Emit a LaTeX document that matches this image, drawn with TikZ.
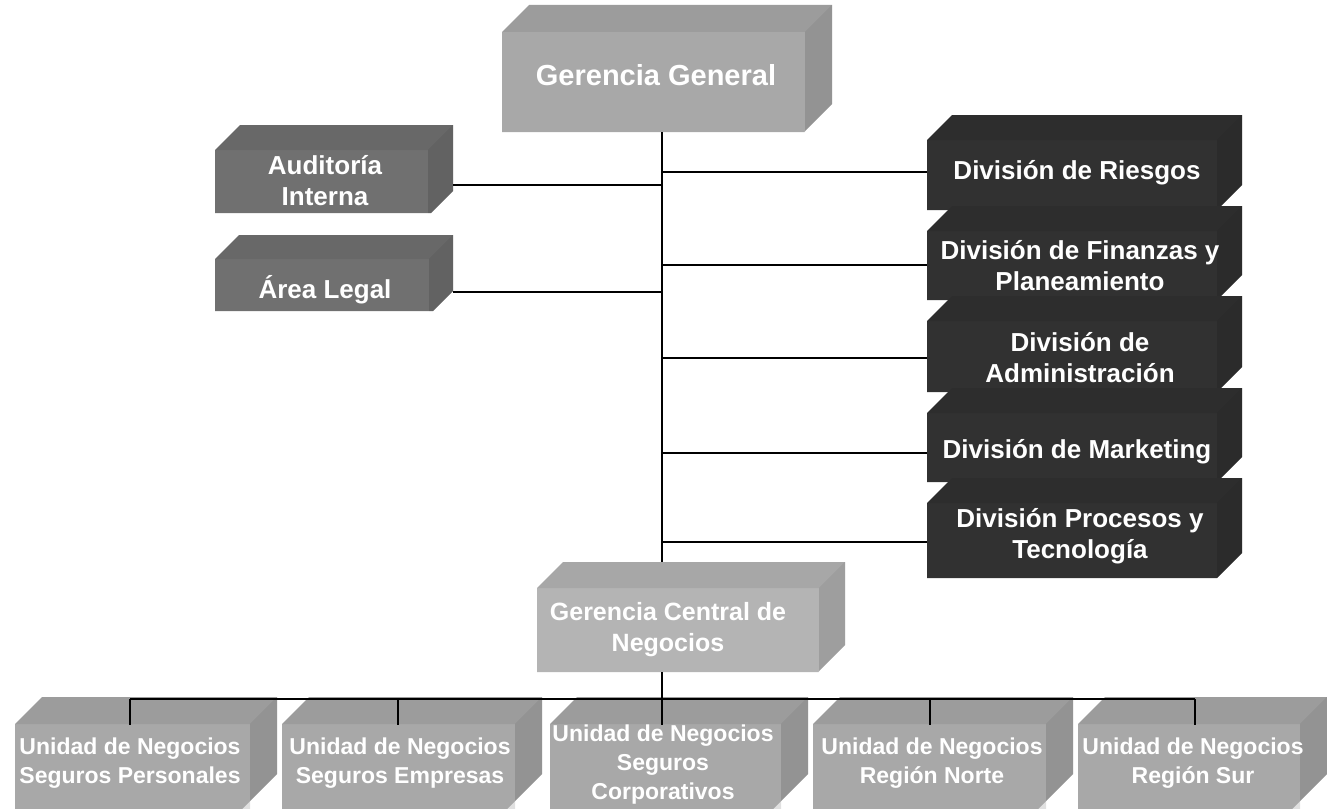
\documentclass[tikz,border=0pt]{standalone}
\usepackage{fontspec}
\setmainfont{Liberation Sans}
\usetikzlibrary{fit,calc}
\definecolor{lgray}{HTML}{A8A8A8}
\definecolor{cgray}{HTML}{B4B4B4}
\definecolor{mgray}{HTML}{707070}
\definecolor{dgray}{HTML}{313131}
% #1 name, #2 x1, #3 y1, #4 x2, #5 y2, #6 top-left cut, #7 bottom-right cut, #8 fill
\newcommand{\hexbox}[8]{%
  \fill[#8] (#2,{#3+#6}) -- ({#2+#6},#3) -- (#4,#3) -- (#4,{#5-#7}) -- ({#4-#7},#5) -- (#2,#5) -- cycle;
  \fill[black, opacity=0.07] (#2,{#3+#6}) -- ({#2+#6},#3) -- (#4,#3) -- ({#4-#6},{#3+#6}) -- cycle;
  \fill[black, opacity=0.12] ({#4-#6},{#3+#6}) -- (#4,#3) -- (#4,{#5-#7}) -- ({#4-#7},#5) -- ({#4-#6},#5) -- cycle;
  \path (#2,#3) coordinate (#1-nw) (#4,#5) coordinate (#1-se);
  \node[inner sep=0pt, outer sep=0pt, fit=(#1-nw)(#1-se)] (#1) {};
}
\tikzset{
  lbl/.style={text=white, align=center, inner sep=0pt, font=\bfseries},
  conn/.style={draw=black, line width=1.8pt},
  fs29/.style={font=\bfseries\fontsize{29}{34}\selectfont},
  fs26/.style={font=\bfseries\fontsize{26}{31}\selectfont},
  fs25/.style={font=\bfseries\fontsize{25}{31}\selectfont},
  fs23/.style={font=\bfseries\fontsize{23}{29}\selectfont},
}
\begin{document}
\begin{tikzpicture}[x=1pt,y=-1pt]
\useasboundingbox (0,0) rectangle (1327,808);
\fill[white] (0,0) rectangle (1327,808);

% top box
\hexbox{gg}{502}{5}{832}{132}{27}{28}{lgray}
\node[lbl,fs29] (gg-t) at (656,75) {Gerencia General};

% staff boxes left
\hexbox{aud}{215}{125}{453}{213}{25}{22}{mgray}
\node[lbl,fs26] (aud-t) at (325,181) {Auditoría\\Interna};
\hexbox{leg}{215}{235}{453}{311}{24}{20}{mgray}
\node[lbl,fs26] (leg-t) at (325,290) {Área Legal};

% right division boxes
\hexbox{rie}{927}{115}{1242}{210}{25}{25}{dgray}
\node[lbl,fs26] (rie-t) at (1077,173) {División de Riesgos};
\hexbox{fin}{927}{206}{1242}{300}{25}{25}{dgray}
\node[lbl,fs26] (fin-t) at (1080,266) {División de Finanzas y\\Planeamiento};
\hexbox{adm}{927}{296}{1242}{392}{25}{25}{dgray}
\node[lbl,fs26] (adm-t) at (1080,358) {División de\\Administración};
\hexbox{mkt}{927}{388}{1242}{482}{25}{25}{dgray}
\node[lbl,fs26] (mkt-t) at (1077,452) {División de Marketing};
\hexbox{pro}{927}{478}{1242}{578}{25}{25}{dgray}
\node[lbl,fs26] (pro-t) at (1080,536) {División Procesos y\\Tecnología};

% central business management
\hexbox{gc}{537}{562}{845}{672}{26}{27}{cgray}
\node[lbl,fs25] (gc-t) at (668,630) {Gerencia Central de\\Negocios};

% business units
\hexbox{u1}{15}{697}{277}{812}{27}{38}{lgray}
\node[lbl,fs23] (u1-t) at (130,763) {Unidad de Negocios\\Seguros Personales};
\hexbox{u2}{282}{697}{542}{812}{27}{38}{lgray}
\node[lbl,fs23] (u2-t) at (400,763) {Unidad de Negocios\\Seguros Empresas};
\hexbox{u3}{550}{697}{808}{812}{27}{38}{lgray}
\node[lbl,fs23] (u3-t) at (663,765) {Unidad de Negocios\\Seguros\\Corporativos};
\hexbox{u4}{813}{697}{1073}{812}{27}{38}{lgray}
\node[lbl,fs23] (u4-t) at (932,763) {Unidad de Negocios\\Región Norte};
\hexbox{u5}{1078}{697}{1327}{812}{27}{38}{lgray}
\node[lbl,fs23] (u5-t) at (1193,763) {Unidad de Negocios\\Región Sur};

% connectors
\coordinate (tk) at (662,0);
\draw[conn] (gg.south -| tk) -- (gc.north -| tk);
\coordinate (jr1) at (662,172);
\coordinate (jr2) at (662,265);
\coordinate (jr3) at (662,358);
\coordinate (jr4) at (662,453);
\coordinate (jr5) at (662,542);
\draw[conn] (jr1) -- (rie.west |- jr1);
\draw[conn] (jr2) -- (fin.west |- jr2);
\draw[conn] (jr3) -- (adm.west |- jr3);
\draw[conn] (jr4) -- (mkt.west |- jr4);
\draw[conn] (jr5) -- (pro.west |- jr5);
\coordinate (jl1) at (662,185);
\coordinate (jl2) at (662,292);
\draw[conn] (aud.east |- jl1) -- (jl1);
\draw[conn] (leg.east |- jl2) -- (jl2);

\coordinate (bus) at (662,699);
\coordinate (d1) at (130,725);
\coordinate (d2) at (398,725);
\coordinate (d3) at (662,725);
\coordinate (d4) at (930,725);
\coordinate (d5) at (1195,725);
\draw[conn] (gc.south -| tk) -- (d3);
\draw[conn] (d1 |- bus) -- (d5 |- bus);
\draw[conn] (d1 |- bus) -- (d1);
\draw[conn] (d2 |- bus) -- (d2);
\draw[conn] (d4 |- bus) -- (d4);
\draw[conn] (d5 |- bus) -- (d5);
\end{tikzpicture}
\end{document}
